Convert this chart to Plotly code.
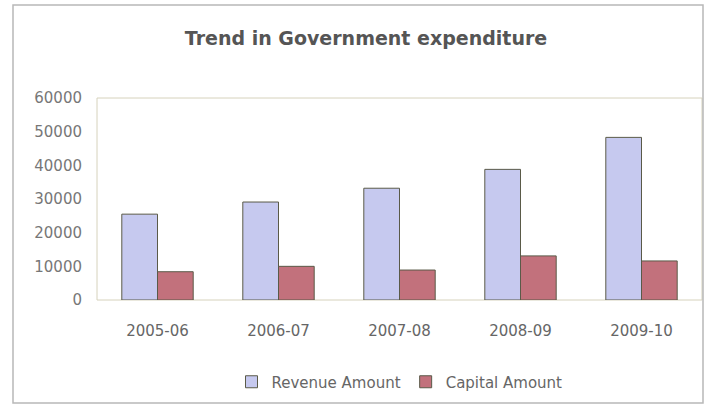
import plotly.graph_objects as go

years = ["2005-06", "2006-07", "2007-08", "2008-09", "2009-10"]
revenue = [25500, 29100, 33200, 38800, 48300]
capital = [8400, 10000, 8900, 13100, 11600]
y_ticks = [0, 10000, 20000, 30000, 40000, 50000, 60000]
y_tick_labels = [str(v) for v in y_ticks]

W, H = 704, 405
L, R, T, B = 97, 2, 98, 105
pw, ph = W - L - R, H - T - B
FONT = "DejaVu Sans, Liberation Sans, Arial, sans-serif"

def px_x(x):
    return (x - L) / pw

def px_y(y):
    return (H - B - y) / ph

fig = go.Figure()
fig.add_trace(go.Bar(x=years, y=revenue, name="Revenue Amount",
                     marker=dict(color="#C6C9EF", line=dict(color="#5A5A48", width=1))))
fig.add_trace(go.Bar(x=years, y=capital, name="Capital Amount",
                     marker=dict(color="#C2717C", line=dict(color="#5A5A48", width=1))))

fig.update_layout(
    width=W, height=H,
    margin=dict(l=L, r=R, t=T, b=B),
    paper_bgcolor="white", plot_bgcolor="white",
    barmode="group", bargap=0.41, bargroupgap=0,
    font=dict(family=FONT, color="#666666", size=15),
    title=dict(text="<b>Trend in Government expenditure</b>", x=px_x(366), xanchor="center",
               xref="paper", y=1 - 38 / H, yanchor="middle",
               font=dict(family=FONT, size=19, color="#555555")),
    xaxis=dict(type="category", showgrid=False, showline=False, ticks="",
               ticklabelstandoff=20, tickfont=dict(size=15, color="#666666")),
    yaxis=dict(range=[0, 60000], tickvals=y_ticks, ticktext=y_tick_labels,
               showgrid=False, showline=False, ticks="",
               zeroline=False, ticklabelstandoff=14, tickfont=dict(size=15, color="#777777")),
    legend=dict(orientation="h", x=0.5, xanchor="center", y=px_y(382), yanchor="middle",
                font=dict(size=15, color="#666666"), itemwidth=30, traceorder="normal"),
    showlegend=True,
)

fig.add_shape(type="rect", xref="paper", yref="paper", x0=0, x1=1, y0=0, y1=1,
              line=dict(color="#D6D2BC", width=1), layer="below")
fig.add_shape(type="rect", xref="paper", yref="paper",
              x0=px_x(13), x1=px_x(703), y0=px_y(403), y1=px_y(5),
              line=dict(color="#B8B8B8", width=1.5), layer="below")

fig.write_html("out.html")
